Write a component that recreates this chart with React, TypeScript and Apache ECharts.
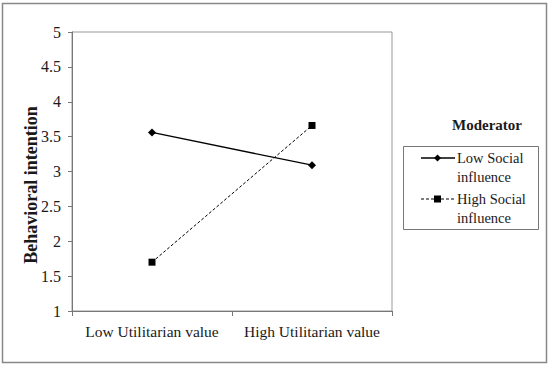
import React, { useEffect, useRef } from "react";
import * as echarts from "echarts";

const categories = ["Low Utilitarian value", "High Utilitarian value"];
const lowSocial = [3.56, 3.09];
const highSocial = [1.7, 3.66];
const seriesNames = ["Low Social\ninfluence", "High Social\ninfluence"];
const yAxisTitle = "Behavioral intention";
const legendTitle = "Moderator";

const FONT = "'Liberation Serif', 'Times New Roman', serif";
const TXT = "#1a1a1a";

export default function App() {
  const ref = useRef<HTMLDivElement>(null);
  useEffect(() => {
    document.body.style.margin = "0";
    const chart = echarts.init(ref.current!, null, { renderer: "svg" });
    chart.setOption({
      animation: false,
      backgroundColor: "#fff",
      textStyle: { fontFamily: FONT, color: TXT },
      grid: {
        left: 72,
        top: 32,
        right: 158,
        bottom: 56,
        show: true,
        borderColor: "#999",
        borderWidth: 1,
      },
      xAxis: {
        type: "category",
        data: categories,
        boundaryGap: true,
        axisLine: { lineStyle: { color: "#777", width: 1 } },
        axisTick: { show: true, length: 5, interval: 0, lineStyle: { color: "#777" } },
        axisLabel: { fontFamily: FONT, fontSize: 15.5, color: TXT, margin: 12, interval: 0 },
        splitLine: { show: false },
      },
      yAxis: {
        type: "value",
        min: 1,
        max: 5,
        interval: 0.5,
        axisLine: { show: true, lineStyle: { color: "#777", width: 1 } },
        axisTick: { show: true, length: 4, lineStyle: { color: "#777" } },
        axisLabel: { fontFamily: FONT, fontSize: 16, color: TXT, margin: 11 },
        splitLine: { show: false },
      },
      series: [
        {
          name: seriesNames[0],
          type: "line",
          data: lowSocial,
          symbol: "diamond",
          symbolSize: 8,
          lineStyle: { color: "#000", width: 1.3, type: "solid" },
          itemStyle: { color: "#000" },
        },
        {
          name: seriesNames[1],
          type: "line",
          data: highSocial,
          symbol: "rect",
          symbolSize: 7,
          lineStyle: { color: "#000", width: 1, type: [3, 2] },
          itemStyle: { color: "#000" },
        },
      ],
      graphic: [
        {
          type: "rect",
          shape: { x: 2.5, y: 3.5, width: 544, height: 359 },
          style: { fill: "none", stroke: "#888", lineWidth: 1.5 },
          silent: true,
        },
        {
          type: "text",
          x: 31,
          y: 185,
          rotation: Math.PI / 2,
          style: {
            text: yAxisTitle,
            font: `bold 18px ${FONT}`,
            fill: TXT,
            align: "center",
            verticalAlign: "middle",
          },
        },
        {
          type: "text",
          x: 487,
          y: 125,
          style: {
            text: legendTitle,
            font: `bold 15px ${FONT}`,
            fill: TXT,
            align: "center",
            verticalAlign: "middle",
          },
        },
        {
          type: "rect",
          shape: { x: 403.5, y: 146.5, width: 135, height: 83 },
          style: { fill: "none", stroke: "#777", lineWidth: 1 },
        },
        {
          type: "line",
          shape: { x1: 421, y1: 158, x2: 455, y2: 158 },
          style: { stroke: "#000", lineWidth: 1.3 },
        },
        {
          type: "polygon",
          shape: { points: [[437.5, 154.5], [441, 158], [437.5, 161.5], [434, 158]] },
          style: { fill: "#000" },
        },
        {
          type: "text",
          x: 457,
          y: 167.5,
          style: {
            text: seriesNames[0],
            font: `14.5px ${FONT}`,
            fill: TXT,
            align: "left",
            verticalAlign: "middle",
            lineHeight: 19,
          },
        },
        {
          type: "line",
          shape: { x1: 421, y1: 199, x2: 455, y2: 199 },
          style: { stroke: "#000", lineWidth: 1, lineDash: [3, 2] },
        },
        {
          type: "rect",
          shape: { x: 434, y: 195.5, width: 7, height: 7 },
          style: { fill: "#000" },
        },
        {
          type: "text",
          x: 457,
          y: 208.5,
          style: {
            text: seriesNames[1],
            font: `14.5px ${FONT}`,
            fill: TXT,
            align: "left",
            verticalAlign: "middle",
            lineHeight: 19,
          },
        },
      ],
    });
    return () => chart.dispose();
  }, []);
  return <div ref={ref} style={{ width: 550, height: 367 }} />;
}
